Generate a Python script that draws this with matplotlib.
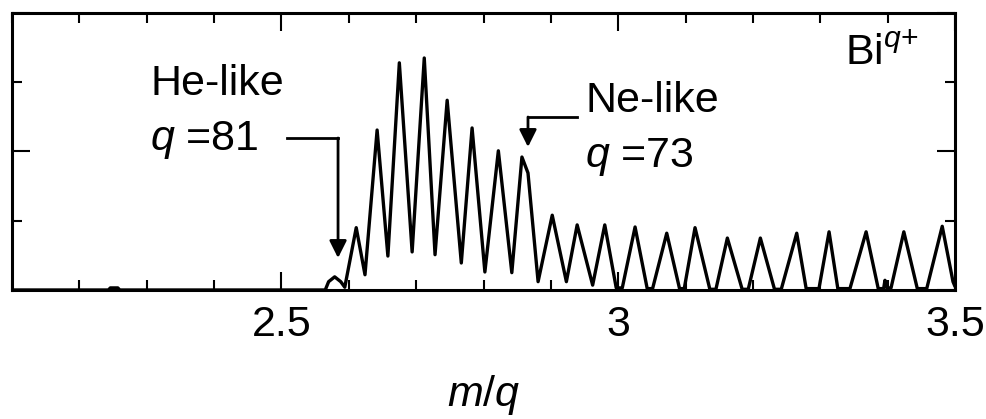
import matplotlib
matplotlib.use("Agg")
import matplotlib.pyplot as plt
from matplotlib.ticker import MultipleLocator, FixedLocator, FixedFormatter

plt.rcParams['font.family'] = ['Liberation Sans', 'DejaVu Sans']
plt.rcParams['mathtext.fontset'] = 'custom'
plt.rcParams['mathtext.rm'] = 'Liberation Sans'
plt.rcParams['mathtext.it'] = 'Liberation Sans:italic'

# spectrum of Bi^q+ (m/q, intensity in arb. units)
mq = [2.100, 2.243, 2.246, 2.257, 2.260,
      2.565, 2.570, 2.579, 2.588, 2.594,
      2.611, 2.624, 2.642, 2.658, 2.675, 2.694, 2.712, 2.728,
      2.746, 2.767, 2.783, 2.802, 2.822, 2.842, 2.857, 2.866,
      2.881, 2.902, 2.923, 2.939, 2.962, 2.980, 2.997, 3.006,
      3.025, 3.043, 3.051, 3.072, 3.091, 3.098, 3.114, 3.136,
      3.145, 3.162, 3.184, 3.193, 3.211, 3.232, 3.242, 3.265,
      3.279, 3.298, 3.313, 3.326, 3.344, 3.368, 3.386, 3.394,
      3.396, 3.399, 3.405, 3.424, 3.444, 3.458, 3.481, 3.497, 3.500]
intensity = [0.00, 0.00, 0.03, 0.03, 0.00,
             0.00, 0.12, 0.19, 0.12, 0.04,
             0.90, 0.22, 2.31, 0.49, 3.28, 0.55, 3.35, 0.51,
             2.74, 0.39, 2.34, 0.26, 2.01, 0.25, 1.92, 1.69,
             0.12, 1.08, 0.12, 0.94, 0.07, 0.94, 0.03, 0.03,
             0.91, 0.02, 0.02, 0.82, 0.02, 0.02, 0.90, 0.01,
             0.01, 0.75, 0.01, 0.01, 0.75, 0.01, 0.01, 0.82,
             0.02, 0.02, 0.84, 0.02, 0.02, 0.84, 0.02, 0.02,
             0.14, 0.03, 0.03, 0.84, 0.02, 0.02, 0.92, 0.12, 0.05]

xticks = [2.5, 3.0, 3.5]
xtick_labels = ["2.5", "3", "3.5"]

fig = plt.figure(figsize=(9.87, 4.19), dpi=100)
ax = fig.add_axes([0.0122, 0.3079, 0.9554, 0.6611])

ax.plot(mq, intensity, color='black', lw=2.4,
        solid_joinstyle='round', solid_capstyle='round')

ax.set_xlim(2.1, 3.5)
ax.set_ylim(0, 4)
ax.xaxis.set_major_locator(FixedLocator(xticks))
ax.xaxis.set_major_formatter(FixedFormatter(xtick_labels))
ax.xaxis.set_minor_locator(MultipleLocator(0.1))
ax.yaxis.set_major_locator(MultipleLocator(2))
ax.yaxis.set_minor_locator(MultipleLocator(1))
ax.tick_params(which='both', direction='in', top=True, right=True,
               labelleft=False, width=1.5, labelsize=31, pad=11)
ax.tick_params(which='major', length=13)
ax.tick_params(which='minor', length=7)
for s in ax.spines.values():
    s.set_linewidth(2.2)

ax.set_xlabel('$m/q$', fontsize=31, labelpad=20)

# labels and arrows
ax.text(2.305, 2.816, 'He-like', fontsize=31)
ax.text(2.305, 2.02, '$q$ =81', fontsize=31)
ax.plot([2.508, 2.584], [2.195, 2.195], color='black', lw=2)
ax.annotate('', xy=(2.584, 0.462), xytext=(2.584, 2.195),
            arrowprops=dict(arrowstyle='-|>', color='black', lw=2,
                            mutation_scale=26, shrinkA=0, shrinkB=0))

ax.text(2.951, 2.57, 'Ne-like', fontsize=31)
ax.text(2.951, 1.776, '$q$ =73', fontsize=31)
ax.plot([2.939, 2.866], [2.498, 2.498], color='black', lw=2)
ax.annotate('', xy=(2.866, 2.065), xytext=(2.866, 2.498),
            arrowprops=dict(arrowstyle='-|>', color='black', lw=2,
                            mutation_scale=26, shrinkA=0, shrinkB=0))

ax.text(3.337, 3.249, 'Bi$^{q{+}}$', fontsize=31)

fig.savefig('out.png', dpi=100)
